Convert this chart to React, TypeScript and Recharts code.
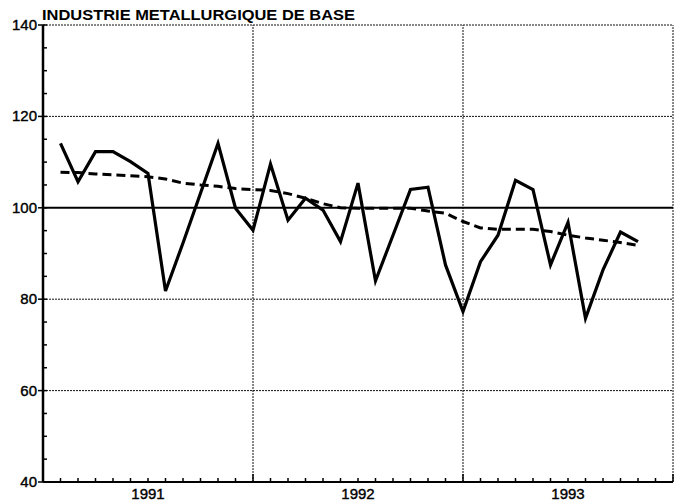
import { LineChart, Line, XAxis, YAxis, ReferenceLine } from "recharts";

const months = [
  1, 2, 3, 4, 5, 6, 7, 8, 9, 10, 11, 12,
  13, 14, 15, 16, 17, 18, 19, 20, 21, 22, 23, 24,
  25, 26, 27, 28, 29, 30, 31, 32, 33, 34,
];

// indice brut (solid)
const indice = [
  114.1, 105.7, 112.3, 112.3, 110.1, 107.5, 81.8, 92.3, 103.2, 114.1, 99.9, 95.1,
  109.6, 97.3, 102.1, 99.5, 92.6, 105.4, 84.0, 94.0, 104.0, 104.5, 87.5, 77.3,
  88.2, 94.0, 106.0, 104.0, 87.5, 96.8, 75.8, 86.4, 94.7, 92.6,
];

// tendance (dashed)
const tendance = [
  107.8, 107.7, 107.4, 107.2, 107.0, 106.8, 106.3, 105.4, 105.0, 104.7, 104.2, 104.0,
  103.8, 103.1, 102.1, 100.9, 100.0, 99.9, 99.9, 99.9, 99.9, 99.3, 98.8, 97.0,
  95.6, 95.3, 95.3, 95.3, 94.8, 94.0, 93.4, 92.9, 92.4, 91.8,
];

const years = ["1991", "1992", "1993"];
const monthTicks = Array.from({ length: 37 }, (_, i) => i);
const yTicks = [40, 45, 50, 55, 60, 65, 70, 75, 80, 85, 90, 95, 100, 105, 110, 115, 120, 125, 130, 135, 140];
const gridY = [60, 80, 120, 140];
const gridX = [12, 24, 36];

const title = "INDUSTRIE METALLURGIQUE DE BASE";

const data = months.map((m, i) => ({ m, indice: indice[i], tendance: tendance[i] }));

const font = "'Liberation Sans', Arial, sans-serif";

const YTick = (props: any) => {
  const { x, y, payload } = props;
  const v = payload.value;
  const major = v % 20 === 0;
  return (
    <g>
      <line x1={major ? x - 5 : x} x2={x + 4} y1={y} y2={y} stroke="#000" strokeWidth={1.5} />
      {major && (
        <text
          x={x - 6}
          y={y}
          dy={5}
          textAnchor="end"
          fontSize={15}
          fill="#000"
          stroke="#000"
          strokeWidth={0.4}
          fontFamily={font}
        >
          {v}
        </text>
      )}
    </g>
  );
};

const XTick = (props: any) => {
  const { x, y, payload } = props;
  const v = payload.value;
  const yearEdge = v % 12 === 0;
  const label = v % 12 === 6 ? years[Math.floor(v / 12)] : null;
  return (
    <g>
      <line x1={x} x2={x} y1={y} y2={y - (yearEdge ? 8 : 4)} stroke="#000" strokeWidth={1.5} />
      {label && (
        <text
          x={x}
          y={y + 17}
          textAnchor="middle"
          fontSize={15}
          fill="#000"
          stroke="#000"
          strokeWidth={0.4}
          fontFamily={font}
        >
          {label}
        </text>
      )}
    </g>
  );
};

export default function App() {
  return (
    <div style={{ position: "relative", width: 685, height: 502, background: "#fff" }}>
      <style>{`body{margin:0;background:#fff}`}</style>
      <LineChart width={685} height={502} data={data} margin={{ top: 25, right: 12, bottom: 0, left: 0 }}>
        <XAxis
          dataKey="m"
          type="number"
          domain={[0, 36]}
          ticks={monthTicks}
          interval={0}
          height={20}
          tickSize={0}
          tickMargin={0}
          tickLine={false}
          tick={<XTick />}
          axisLine={{ stroke: "#000", strokeWidth: 2 }}
        />
        <YAxis
          type="number"
          domain={[40, 140]}
          ticks={yTicks}
          interval={0}
          width={43}
          tickSize={0}
          tickMargin={0}
          tickLine={false}
          tick={<YTick />}
          axisLine={{ stroke: "#000", strokeWidth: 2.5 }}
        />
        {gridY.map((v) => (
          <ReferenceLine key={"gy" + v} y={v} stroke="#111" strokeWidth={1} strokeDasharray="2 1" />
        ))}
        {gridX.map((v) => (
          <ReferenceLine key={"gx" + v} x={v} stroke="#111" strokeWidth={1} strokeDasharray="2 1" />
        ))}
        <ReferenceLine y={100} stroke="#000" strokeWidth={2} />
        <Line
          dataKey="tendance"
          type="linear"
          stroke="#000"
          strokeWidth={3}
          strokeDasharray="9 5"
          dot={false}
          isAnimationActive={false}
        />
        <Line
          dataKey="indice"
          type="linear"
          stroke="#000"
          strokeWidth={3.2}
          strokeLinejoin="miter"
          dot={false}
          isAnimationActive={false}
        />
      </LineChart>
      <svg width={685} height={30} style={{ position: "absolute", left: 0, top: 0 }}>
        <text
          x={42}
          y={20}
          fontSize={15}
          fontWeight="bold"
          fontFamily={font}
          fill="#000"
          textLength={313}
          lengthAdjust="spacingAndGlyphs"
        >
          {title}
        </text>
      </svg>
    </div>
  );
}
